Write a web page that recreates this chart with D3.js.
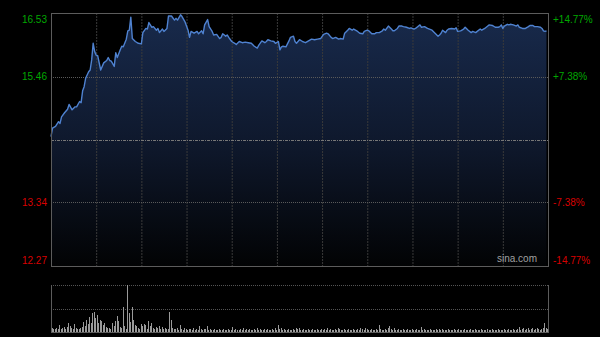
<!DOCTYPE html>
<html>
<head>
<meta charset="utf-8">
<script src="https://cdn.jsdelivr.net/npm/d3@7"></script>
<style>
  html, body { margin: 0; padding: 0; background: #000; }
  svg { display: block; }
</style>
</head>
<body>
<svg id="chart" width="600" height="337"></svg>
<script>
// intraday HK session, minutes since 09:30 (lunch break removed), 330 minutes
const prevClose = 14.40;
const priceTicks = [16.53, 15.46, 13.34, 12.27];
const pctTicks = ['+14.77%', '+7.38%', '-7.38%', '-14.77%'];
const minutes = [0,1,3,5,6,7,9,11,12,14,16,17,19,20,21,22,23,25,26,27,28,29,30,31,33,35,37,38,39,40,42,43,44,46,47,48,50,51,52,53,54,56,58,60,61,63,64,65,67,68,70,71,72,74,75,77,78,80,82,83,
  84,86,87,89,91,92,93,95,97,98,100,101,102,104,105,107,108,110,112,113,114,116,117,118,120,122,123,125,127,129,131,133,135,137,138,140,142,143,144,146,148,149,151,152,153,154,156,158,159,161,162,163,165,167,168,
  169,171,173,175,177,179,181,183,184,186,187,189,191,192,194,195,197,198,200,201,203,205,207,208,210,211,213,215,216,218,220,221,222,224,226,227,228,230,231,233,234,236,238,239,241,242,245,246,248,250,
  253,255,257,258,259,260,262,263,264,266,268,269,270,272,274,275,277,279,280,282,283,285,286,288,290,291,293,295,297,298,299,300,301,303,304,305,307,309,310,311,313,315,317,318,320,321,323,325,326,327,328,329];
const prices = [14.45,14.59,14.62,14.70,14.67,14.78,14.85,14.91,14.99,14.90,14.95,14.95,15.04,15.02,15.22,15.29,15.43,15.54,15.57,15.74,16.02,15.88,15.82,15.81,15.57,15.69,15.73,15.78,15.73,15.72,15.63,15.86,15.78,15.91,15.97,15.96,16.09,16.23,16.24,16.46,16.10,16.05,16.02,16.01,16.20,16.27,16.26,16.37,16.29,16.30,16.24,16.27,16.20,16.26,16.22,16.27,16.48,16.48,16.41,16.44,
  16.41,16.50,16.47,16.38,16.24,16.12,16.22,16.19,16.22,16.18,16.23,16.18,16.33,16.42,16.30,16.22,16.16,16.17,16.10,16.12,16.18,16.14,16.16,16.12,16.05,16.02,16.00,16.05,16.03,16.04,16.03,16.02,15.97,15.94,15.99,16.06,16.03,16.05,16.08,16.06,16.05,16.02,16.05,15.91,15.96,15.97,15.96,16.06,16.12,16.14,16.05,16.02,16.08,16.05,16.04,
  16.03,16.06,16.09,16.08,16.09,16.10,16.17,16.19,16.18,16.12,16.10,16.12,16.09,16.10,16.09,16.19,16.24,16.27,16.24,16.26,16.23,16.19,16.18,16.22,16.24,16.23,16.18,16.18,16.20,16.20,16.23,16.26,16.24,16.31,16.26,16.23,16.23,16.27,16.31,16.31,16.30,16.29,16.27,16.28,16.26,16.27,16.33,16.29,16.30,16.27,
  16.24,16.19,16.14,16.16,16.19,16.24,16.20,16.24,16.26,16.27,16.26,16.28,16.22,16.23,16.26,16.29,16.24,16.20,16.22,16.20,16.22,16.26,16.24,16.27,16.31,16.33,16.32,16.29,16.29,16.30,16.33,16.27,16.31,16.34,16.33,16.34,16.33,16.31,16.33,16.29,16.27,16.27,16.30,16.32,16.32,16.30,16.30,16.29,16.27,16.23,16.22,16.23];
// per-minute volume, 10k shares
const volumes = [
  4,3,3,4,3,7,3,4,5,3,5,9,6,4,3,8,4,3,3,4,5,10,6,12,8,15,9,19,20,14,
  17,9,12,11,7,9,5,4,4,3,9,6,11,16,11,5,4,25,6,3,47,19,10,25,12,7,6,4,3,8,
  6,8,7,3,11,6,9,4,3,5,4,6,3,5,3,4,3,3,20,12,4,3,3,4,2,7,3,2,4,3,
  2,3,3,2,4,2,3,2,6,3,2,3,3,6,2,3,2,2,3,2,2,3,2,2,3,2,2,3,2,2,
  5,2,3,2,2,3,2,4,2,3,2,3,2,2,3,2,4,2,3,2,2,3,2,3,2,2,3,2,4,2,
  7,3,4,2,3,2,2,3,2,2,3,2,4,3,4,2,2,3,2,2,3,2,2,3,2,2,3,2,2,3,
  2,3,2,4,2,3,2,2,3,2,4,3,2,2,3,2,2,3,2,2,3,2,2,3,2,4,3,2,4,3,
  2,2,3,2,2,3,2,7,3,2,2,3,2,4,6,3,2,4,2,2,3,2,2,3,2,2,3,2,2,3,
  2,2,3,2,2,5,2,3,2,2,2,3,2,2,2,3,2,3,2,3,2,2,2,3,2,2,2,3,2,2,
  3,2,2,2,3,2,2,2,3,2,2,3,2,2,2,3,2,2,2,3,2,2,3,2,2,2,3,2,2,2,
  3,2,2,3,2,2,3,2,2,3,5,2,3,4,2,3,4,2,3,4,2,3,4,3,2,3,4,9,4,3
];

if (minutes.length !== prices.length) {
  throw new Error('length mismatch ' + minutes.length + ' vs ' + prices.length);
}

const svg = d3.select('#chart');
const plotL = 51, plotR = 548;
const plotT = 13, plotB = 266;
const volT = 285, volB = 332;
const green = '#00a800', red = '#d80000';

const x = d3.scaleLinear().domain([0, 330]).range([plotL, plotR]);
const y = d3.scaleLinear().domain([12.27, 16.53]).range([plotB, plotT]);
const yv = d3.scaleLinear().domain([0, d3.max(volumes)]).range([volB, volT]);

const defs = svg.append('defs');
const grad = defs.append('linearGradient')
  .attr('id', 'fillGrad')
  .attr('gradientUnits', 'userSpaceOnUse')
  .attr('x1', 0).attr('x2', 0)
  .attr('y1', plotT).attr('y2', plotB);
grad.append('stop').attr('offset', '0%').attr('stop-color', '#182a4c');
grad.append('stop').attr('offset', '55%').attr('stop-color', '#0e172a');
grad.append('stop').attr('offset', '100%').attr('stop-color', '#020304');

const pts = minutes.map((m, i) => ({m: m, p: prices[i]}));

// area under the price
svg.append('path')
  .datum(pts)
  .attr('fill', 'url(#fillGrad)')
  .attr('d', d3.area().x(d => x(d.m)).y0(plotB).y1(d => y(d.p)));

// vertical grid, every half hour
const gridG = svg.append('g');
for (let t = 30; t < 330; t += 30) {
  gridG.append('line')
    .attr('x1', x(t) + 0.5).attr('x2', x(t) + 0.5)
    .attr('y1', plotT).attr('y2', plotB)
    .attr('stroke', '#3a3a3a')
    .attr('stroke-dasharray', '2,1');
}
// horizontal grid
[15.46, 13.34].forEach(v => {
  gridG.append('line')
    .attr('x1', plotL).attr('x2', plotR)
    .attr('y1', Math.round(y(v)) + 0.5).attr('y2', Math.round(y(v)) + 0.5)
    .attr('stroke', '#5a5a5a')
    .attr('stroke-dasharray', '1,1');
});
gridG.append('line')
  .attr('x1', plotL).attr('x2', plotR)
  .attr('y1', Math.round(y(prevClose)) + 0.5).attr('y2', Math.round(y(prevClose)) + 0.5)
  .attr('stroke', '#777')
  .attr('stroke-dasharray', '3,1,1,1');

// price line
svg.append('path')
  .datum(pts)
  .attr('fill', 'none')
  .attr('stroke', '#4f82d0')
  .attr('stroke-width', 1.4)
  .attr('stroke-linejoin', 'round')
  .attr('d', d3.line().x(d => x(d.m)).y(d => y(d.p)));

// frame
svg.append('rect')
  .attr('x', plotL + 0.5).attr('y', plotT + 0.5)
  .attr('width', plotR - plotL).attr('height', plotB - plotT)
  .attr('fill', 'none')
  .attr('stroke', '#5c5c5c');

// labels
const lab = svg.append('g')
  .style('font-family', '"Liberation Sans", Arial, sans-serif')
  .style('font-size', '10px');
priceTicks.forEach((v, i) => {
  let yy = y(v);
  if (i === 0) yy += 6;
  if (i === priceTicks.length - 1) yy -= 6;
  const col = v > prevClose ? green : red;
  lab.append('text')
    .attr('x', plotL - 4).attr('y', yy)
    .attr('dy', '0.35em')
    .attr('text-anchor', 'end')
    .attr('fill', col)
    .text(v.toFixed(2));
  lab.append('text')
    .attr('x', plotR + 5).attr('y', yy)
    .attr('dy', '0.35em')
    .attr('fill', col)
    .text(pctTicks[i]);
});
lab.append('text')
  .attr('x', plotR - 11).attr('y', plotB - 4)
  .attr('text-anchor', 'end')
  .attr('fill', '#a0a0a0')
  .text('sina.com');

// volume panel
const vg = svg.append('g');
[volT, (volT + volB) / 2].forEach(v => {
  vg.append('line')
    .attr('x1', plotL).attr('x2', plotR)
    .attr('y1', Math.round(v) + 0.5).attr('y2', Math.round(v) + 0.5)
    .attr('stroke', '#555')
    .attr('stroke-dasharray', '1,1');
});
vg.selectAll('rect.vol')
  .data(volumes)
  .enter()
  .append('rect')
  .attr('class', 'vol')
  .attr('x', (d, i) => Math.round(x(i + 0.5)))
  .attr('y', d => yv(d))
  .attr('width', 1)
  .attr('height', d => volB - yv(d))
  .attr('fill', '#9a9a9a');
vg.append('line')
  .attr('x1', plotL + 0.5).attr('x2', plotL + 0.5)
  .attr('y1', volT).attr('y2', volB + 1)
  .attr('stroke', '#5c5c5c');
vg.append('line')
  .attr('x1', plotR + 0.5).attr('x2', plotR + 0.5)
  .attr('y1', volT).attr('y2', volB + 1)
  .attr('stroke', '#5c5c5c');
vg.append('line')
  .attr('x1', plotL).attr('x2', plotR + 1)
  .attr('y1', volB + 0.5).attr('y2', volB + 0.5)
  .attr('stroke', '#5c5c5c');
</script>
</body>
</html>
